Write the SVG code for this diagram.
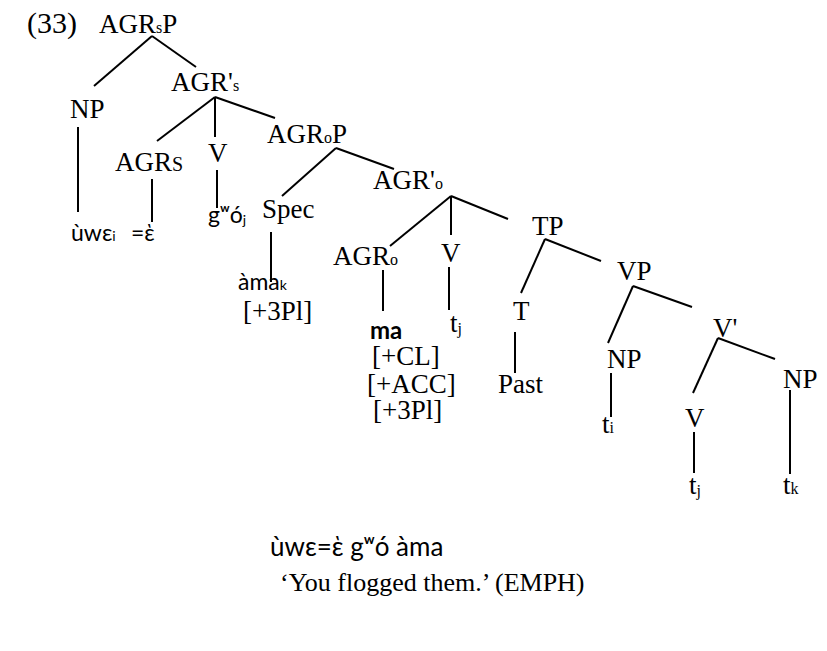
<svg xmlns="http://www.w3.org/2000/svg" width="827" height="651" viewBox="0 0 827 651">
<style>
.s{font-family:"Liberation Serif","Times New Roman",serif;font-size:27px;fill:#000}
.f{font-family:Lato,"Noto Sans",sans-serif;font-size:23px;fill:#000}
.b{font-weight:bold;font-size:24px}
.g{font-size:26px}
.sub{font-size:16px}
.sm{font-size:14px}
.e line{stroke:#000;stroke-width:2;stroke-linecap:butt}
</style>
<rect width="827" height="651" fill="#fff"/>
<g id="connectors" class="e">
<line x1="152" y1="36" x2="94" y2="86"/>
<line x1="152" y1="36" x2="196" y2="67"/>
<line x1="78" y1="127" x2="78" y2="212"/>
<line x1="215" y1="97" x2="157" y2="141"/>
<line x1="215" y1="97" x2="215" y2="137"/>
<line x1="215" y1="97" x2="275" y2="118"/>
<line x1="152" y1="179" x2="152" y2="222"/>
<line x1="217" y1="170" x2="217" y2="208"/>
<line x1="336" y1="148" x2="282" y2="196"/>
<line x1="336" y1="148" x2="394" y2="169"/>
<line x1="271" y1="232" x2="271" y2="282"/>
<line x1="451" y1="196" x2="390" y2="246"/>
<line x1="451" y1="196" x2="451" y2="235"/>
<line x1="451" y1="196" x2="508" y2="219"/>
<line x1="383" y1="270" x2="383" y2="311"/>
<line x1="449" y1="267" x2="449" y2="310"/>
<line x1="545" y1="239" x2="521" y2="293"/>
<line x1="545" y1="239" x2="601" y2="261"/>
<line x1="515" y1="332" x2="515" y2="373"/>
<line x1="633" y1="286" x2="608" y2="343"/>
<line x1="633" y1="286" x2="692" y2="307"/>
<line x1="611" y1="373" x2="611" y2="417"/>
<line x1="718" y1="338" x2="693" y2="393"/>
<line x1="718" y1="338" x2="775" y2="359"/>
<line x1="790" y1="390" x2="790" y2="474"/>
<line x1="694" y1="432" x2="694" y2="473"/>
</g>
<g id="label-num"><text class="s" x="27" y="33" style="font-size:30px">(33)</text></g>
<g id="n-agrsp"><text class="s" x="99" y="33">AGR<tspan class="sub">s</tspan>P</text></g>
<g id="n-np1"><text class="s" x="70" y="118">NP</text></g>
<g id="n-agrs-bar"><text class="s" x="171" y="91">AGR'<tspan class="sub">s</tspan></text></g>
<g id="n-agrs"><text class="s" x="115" y="171">AGR<tspan style="font-size:20px">S</tspan></text></g>
<g id="n-v1"><text class="s" x="208" y="162">V</text></g>
<g id="n-agrop"><text class="s" x="267" y="143">AGR<tspan class="sub">o</tspan>P</text></g>
<g id="n-uwe"><text class="f" x="71" y="241">ùwε<tspan class="sm">i</tspan></text></g>
<g id="n-e"><text class="f" x="131" y="241">=ὲ</text></g>
<g id="n-gwo"><text class="f" x="208" y="223">gʷó<tspan class="sm" dy="2">j</tspan></text></g>
<g id="n-spec"><text class="s" x="262" y="218">Spec</text></g>
<g id="n-agro-bar"><text class="s" x="373" y="189">AGR'<tspan class="sub">o</tspan></text></g>
<g id="n-ama"><text class="f" x="238" y="290">àma<tspan class="sm">k</tspan></text><text class="s" x="243" y="320">[+3Pl]</text></g>
<g id="n-agro"><text class="s" x="333" y="265">AGR<tspan class="sub">o</tspan></text></g>
<g id="n-v2"><text class="s" x="441" y="262">V</text></g>
<g id="n-tp"><text class="s" x="532" y="235">TP</text></g>
<g id="n-ma"><text class="f b" x="370" y="339">ma</text><text class="s" x="372" y="365">[+CL]</text><text class="s" x="367" y="393">[+ACC]</text><text class="s" x="373" y="419">[+3Pl]</text></g>
<g id="n-tj1"><text class="s" x="450" y="332">t<tspan class="sub" dy="2">j</tspan></text></g>
<g id="n-t"><text class="s" x="513" y="320">T</text></g>
<g id="n-past"><text class="s" x="498" y="393">Past</text></g>
<g id="n-vp"><text class="s" x="617" y="280">VP</text></g>
<g id="n-np2"><text class="s" x="607" y="368">NP</text></g>
<g id="n-ti"><text class="s" x="602" y="433">t<tspan class="sub">i</tspan></text></g>
<g id="n-vbar"><text class="s" x="713" y="337">V'</text></g>
<g id="n-np3"><text class="s" x="783" y="388">NP</text></g>
<g id="n-v3"><text class="s" x="685" y="427">V</text></g>
<g id="n-tj2"><text class="s" x="689" y="494">t<tspan class="sub" dy="2">j</tspan></text></g>
<g id="n-tk"><text class="s" x="783" y="494">t<tspan class="sub">k</tspan></text></g>
<g id="gloss"><text class="f g" x="270" y="556">ùwε=ὲ gʷó àma</text><text class="s" x="280" y="591" style="font-size:26px">‘You flogged them.’ (EMPH)</text></g>
</svg>
